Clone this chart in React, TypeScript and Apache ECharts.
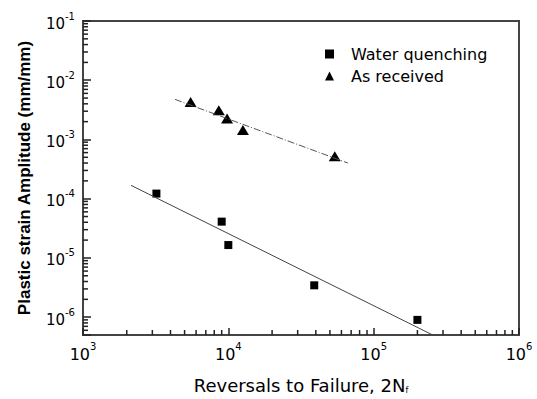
import React, { useEffect, useRef } from "react";
import * as echarts from "echarts";

// Data
const wqX = [3200, 9000, 10000, 39000, 200000];
const wqY = [1.22e-4, 4.1e-5, 1.65e-5, 3.45e-6, 9.0e-7];
const arX = [5500, 8600, 9800, 12600, 54000];
const arY = [4.3e-3, 3.1e-3, 2.25e-3, 1.45e-3, 5.2e-4];
const wqFitX = [2140, 255000];
const wqFitY = [1.68e-4, 5.0e-7];
const arFitX = [4300, 66500];
const arFitY = [4.75e-3, 4.0e-4];

const X_MIN = 1e3;
const X_MAX = 1e6;
const Y_MIN = 5e-7;
const Y_MAX = 1e-1;

const xMinorTicks = [2e3, 3e3, 4e3, 5e3, 6e3, 7e3, 8e3, 9e3, 2e4, 3e4, 4e4, 5e4, 6e4, 7e4, 8e4, 9e4, 2e5, 3e5, 4e5, 5e5, 6e5, 7e5, 8e5, 9e5];
const yMinorTicks = [6e-7, 7e-7, 8e-7, 9e-7, 2e-6, 3e-6, 4e-6, 5e-6, 6e-6, 7e-6, 8e-6, 9e-6, 2e-5, 3e-5, 4e-5, 5e-5, 6e-5, 7e-5, 8e-5, 9e-5, 2e-4, 3e-4, 4e-4, 5e-4, 6e-4, 7e-4, 8e-4, 9e-4, 2e-3, 3e-3, 4e-3, 5e-3, 6e-3, 7e-3, 8e-3, 9e-3, 2e-2, 3e-2, 4e-2, 5e-2, 6e-2, 7e-2, 8e-2, 9e-2];

const FRAME = "#444444";
const FONT = "DejaVu Sans";

function powLabel(v: number) {
  const e = Math.log10(v);
  const r = Math.round(e);
  if (Math.abs(e - r) > 0.01) return "";
  return `{b|10}{s|${r}}`;
}

export default function App() {
  const ref = useRef<HTMLDivElement>(null);
  useEffect(() => {
    if (!ref.current) return;
    const chart = echarts.init(ref.current, null, { renderer: "svg" });
    const richX = {
      b: { fontSize: 16, fontFamily: FONT, color: "#000", padding: [5, 0, 0, 0], verticalAlign: "bottom" },
      s: { fontSize: 10, fontFamily: FONT, color: "#000", verticalAlign: "top" },
    };
    const richY = {
      b: { fontSize: 15, fontFamily: FONT, color: "#000", padding: [5, 0, 0, 0], verticalAlign: "bottom" },
      s: { fontSize: 10, fontFamily: FONT, color: "#000", verticalAlign: "top" },
    };
    chart.setOption({
      animation: false,
      backgroundColor: "#fff",
      grid: {
        left: 83,
        right: 18,
        top: 21,
        bottom: 62,
        show: true,
        borderColor: FRAME,
        borderWidth: 2,
        backgroundColor: "transparent",
      },
      legend: {
        orient: "vertical",
        left: 320,
        top: 41,
        itemWidth: 9,
        itemHeight: 9,
        itemGap: 6,
        data: [
          { name: "Water quenching", icon: "rect", itemStyle: { color: "#000", opacity: 1 } },
          { name: "As received", icon: "triangle", itemStyle: { color: "#000", opacity: 1 } },
        ],
        textStyle: { fontSize: 16, fontFamily: FONT, color: "#000", lineHeight: 16, padding: [0, 0, 0, 12] },
      },
      xAxis: {
        type: "log",
        min: X_MIN,
        max: X_MAX,
        name: "Reversals to Failure, 2N{sub|f}",
        nameLocation: "middle",
        nameGap: 41,
        nameTextStyle: {
          fontSize: 18,
          fontFamily: FONT,
          color: "#000",
          rich: {
            sub: { fontSize: 8, fontFamily: FONT, color: "#000", verticalAlign: "bottom", padding: [10, 0, 0, 0] },
          },
        },
        axisLine: { lineStyle: { color: FRAME, width: 2 } },
        axisTick: { show: true, inside: true, length: 7, lineStyle: { color: "#222", width: 1.5 } },
        axisLabel: { margin: 6, formatter: powLabel, rich: richX },
        splitLine: { show: false },
      },
      yAxis: {
        type: "log",
        min: Y_MIN,
        max: Y_MAX,
        name: "Plastic strain Amplitude (mm/mm)",
        nameLocation: "middle",
        nameGap: 50,
        nameTextStyle: { fontSize: 17, fontWeight: "bold", fontFamily: "Liberation Sans", color: "#000" },
        axisLine: { lineStyle: { color: FRAME, width: 2 } },
        axisTick: { show: true, inside: true, length: 8, lineStyle: { color: "#222", width: 1.5 } },
        axisLabel: { margin: 8, formatter: powLabel, rich: richY },
        splitLine: { show: false },
      },
      series: [
        {
          name: "Water quenching fit",
          type: "line",
          data: wqFitX.map((x, i) => [x, wqFitY[i]]),
          symbol: "none",
          lineStyle: { color: "#444", width: 1 },
          silent: true,
        },
        {
          name: "As received fit",
          type: "line",
          data: arFitX.map((x, i) => [x, arFitY[i]]),
          symbol: "none",
          lineStyle: { color: "#555", width: 1, type: [7, 2, 1, 2] },
          silent: true,
        },
        {
          name: "Water quenching",
          type: "scatter",
          symbol: "rect",
          symbolSize: 8,
          itemStyle: { color: "#000", opacity: 1 },
          data: wqX.map((x, i) => [x, wqY[i]]),
        },
        {
          name: "As received",
          type: "scatter",
          symbol: "triangle",
          symbolSize: [12, 10],
          itemStyle: { color: "#000", opacity: 1 },
          data: arX.map((x, i) => [x, arY[i]]),
        },
        {
          name: "x minor ticks",
          type: "custom",
          silent: true,
          clip: false,
          z: 5,
          data: xMinorTicks.map((v) => [v, Y_MIN]),
          renderItem: (params: any, api: any) => {
            const p = api.coord([api.value(0), Y_MIN]);
            return {
              type: "line",
              shape: { x1: p[0], y1: p[1], x2: p[0], y2: p[1] - 5 },
              style: { stroke: "#222", lineWidth: 1.5 },
            };
          },
        },
        {
          name: "y minor ticks",
          type: "custom",
          silent: true,
          clip: false,
          z: 5,
          data: yMinorTicks.map((v) => [X_MIN, v]),
          renderItem: (params: any, api: any) => {
            const p = api.coord([X_MIN, api.value(1)]);
            return {
              type: "line",
              shape: { x1: p[0], y1: p[1], x2: p[0] + 5, y2: p[1] },
              style: { stroke: "#222", lineWidth: 1.5 },
            };
          },
        },
      ],
    });
    return () => chart.dispose();
  }, []);
  return <div ref={ref} style={{ width: 537, height: 399, position: "absolute", left: 0, top: 0 }} />;
}
